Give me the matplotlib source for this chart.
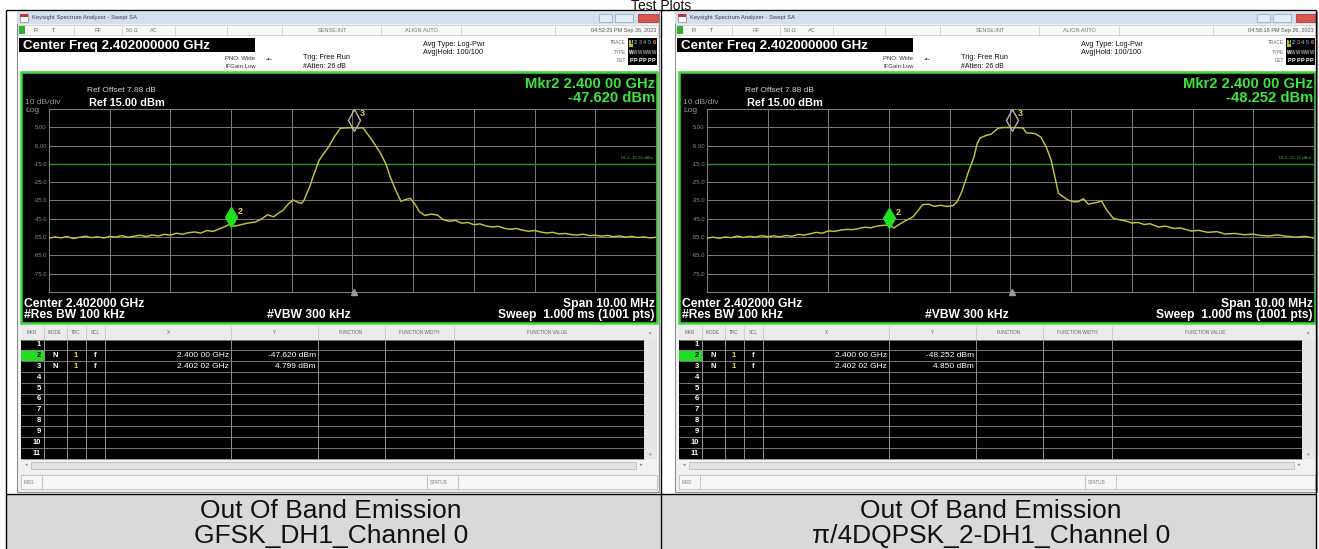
import numpy as np
import matplotlib.pyplot as plt
import matplotlib.transforms as mtransforms
from matplotlib.patches import Rectangle

plt.rcParams['font.family'] = ['Liberation Sans', 'DejaVu Sans']

W, H = 1319, 549

# trace 1 : GFSK DH1, frequency in MHz, level in dBm
gfsk_freq = [2397.0, 2397.1, 2397.2, 2397.3, 2397.4, 2397.5, 2397.6, 2397.7, 2397.8, 2397.9,
             2398.0, 2398.1, 2398.2, 2398.3, 2398.4, 2398.5, 2398.6, 2398.7, 2398.8, 2398.9,
             2399.0, 2399.1, 2399.2, 2399.3, 2399.4, 2399.5, 2399.6, 2399.7, 2399.8, 2399.9,
             2400.0, 2400.05, 2400.1, 2400.2, 2400.3, 2400.4, 2400.5, 2400.6, 2400.7, 2400.75,
             2400.85, 2400.95, 2401.02, 2401.1, 2401.16, 2401.2, 2401.3, 2401.35, 2401.45, 2401.6,
             2401.7, 2401.8, 2401.9, 2402.02, 2402.1, 2402.17, 2402.3, 2402.45, 2402.55, 2402.62,
             2402.72, 2402.8, 2402.86, 2402.95, 2403.03, 2403.1, 2403.19, 2403.3, 2403.4, 2403.5,
             2403.6, 2403.7, 2403.8, 2403.9, 2404.0, 2404.1, 2404.2, 2404.3, 2404.4, 2404.5,
             2404.6, 2404.7, 2404.8, 2404.9, 2405.0, 2405.1, 2405.2, 2405.3, 2405.4, 2405.5,
             2405.6, 2405.7, 2405.8, 2405.9, 2406.0, 2406.1, 2406.2, 2406.3, 2406.4, 2406.5,
             2406.6, 2406.7, 2406.8, 2406.9, 2407.0]
gfsk_dbm = [-55.6, -54.9, -55.4, -54.7, -55.8, -55.1, -54.5, -55.3, -54.8, -55.5,
            -54.6, -55.0, -54.2, -55.1, -54.5, -54.0, -54.7, -53.8, -54.4, -53.5,
            -53.9, -52.9, -53.4, -52.6, -52.2, -52.8, -51.4, -51.9, -50.6, -49.2,
            -47.62, -49.0, -48.7, -47.9, -47.2, -46.8, -45.1, -42.8, -43.9, -42.6,
            -40.5, -36.6, -34.7, -36.0, -36.6, -35.0, -27.0, -22.0, -13.0, -6.0,
            -0.3, 4.5, 4.7, 4.799, 4.6, 4.8, -1.0, -8.5, -15.0, -22.0,
            -30.0, -35.5, -34.6, -33.8, -37.0, -41.0, -43.2, -42.4, -43.0, -45.6,
            -46.3, -45.9, -47.4, -47.0, -48.2, -47.8, -48.9, -49.5, -49.1, -50.2,
            -50.7, -50.3, -51.2, -51.8, -51.4, -52.2, -52.8, -52.4, -53.3, -53.0,
            -53.6, -53.9, -53.4, -54.2, -54.0, -54.5, -54.1, -54.8, -54.4, -55.0,
            -54.6, -55.2, -54.9, -55.4, -55.1]

# trace 2 : pi/4DQPSK 2-DH1
dqpsk_freq = [2397.0, 2397.1, 2397.2, 2397.3, 2397.4, 2397.5, 2397.6, 2397.7, 2397.8, 2397.9,
              2398.0, 2398.1, 2398.2, 2398.3, 2398.4, 2398.5, 2398.6, 2398.7, 2398.8, 2398.9,
              2399.0, 2399.1, 2399.2, 2399.3, 2399.4, 2399.5, 2399.6, 2399.7, 2399.8, 2399.9,
              2400.0, 2400.08, 2400.15, 2400.22, 2400.32, 2400.4, 2400.5, 2400.55, 2400.65, 2400.75,
              2400.85, 2400.95, 2401.05, 2401.12, 2401.2, 2401.3, 2401.4, 2401.45, 2401.5, 2401.6,
              2401.68, 2401.8, 2401.9, 2402.02, 2402.15, 2402.21, 2402.26, 2402.4, 2402.5, 2402.59,
              2402.67, 2402.79, 2402.87, 2402.95, 2403.05, 2403.12, 2403.2, 2403.28, 2403.4, 2403.5,
              2403.58, 2403.69, 2403.8, 2403.9, 2404.0, 2404.1, 2404.2, 2404.3, 2404.44, 2404.55,
              2404.7, 2404.8, 2404.98, 2405.1, 2405.25, 2405.4, 2405.53, 2405.7, 2405.85, 2406.0,
              2406.09, 2406.25, 2406.4, 2406.55, 2406.7, 2406.85, 2407.0]
dqpsk_dbm = [-55.6, -55.0, -55.7, -54.9, -55.3, -54.4, -55.2, -54.6, -55.0, -54.2,
             -54.8, -54.3, -54.9, -54.1, -54.6, -53.5, -53.9, -53.2, -52.4, -52.9,
             -51.6, -51.9, -51.2, -50.8, -50.9, -50.3, -49.6, -49.9, -49.0, -48.6,
             -48.252, -50.0, -48.4, -47.0, -45.2, -43.8, -39.5, -37.3, -37.0, -38.2,
             -37.6, -38.3, -37.8, -35.8, -30.0, -20.0, -11.0, -4.0, -0.8, 0.6,
             1.2, 4.6, 4.9, 4.85, 4.8, 4.5, 2.0, 1.6, -0.3, -5.8,
             -13.0, -31.0, -33.0, -34.8, -35.8, -35.6, -34.0, -37.0, -36.2, -35.3,
             -40.0, -44.6, -45.6, -46.2, -47.3, -47.0, -48.1, -47.7, -49.5, -49.0,
             -50.3, -50.0, -51.7, -51.3, -52.4, -52.0, -53.3, -53.0, -53.7, -53.4,
             -54.0, -54.4, -53.8, -54.6, -55.0, -54.6, -55.5]

marker_freq = [2400.00, 2402.02]          # MHz, markers 2 and 3
gfsk_marker_dbm = [-47.620, 4.799]
dqpsk_marker_dbm = [-48.252, 4.850]
display_line = [-15.20, -15.15]
timestamps = ['04:52:25 PM Sep 26, 2023', '04:58:18 PM Sep 26, 2023']
captions = [('Out Of Band Emission', 'GFSK_DH1_Channel 0'),
            ('Out Of Band Emission', 'π/4DQPSK_2-DH1_Channel 0')]
grid_levels = [-85, -75, -65, -55, -45, -35, -25, -15, -5, 5, 15]

UI = ['Liberation Sans', 'DejaVu Sans']
NARROW = ['Liberation Sans Narrow', 'Liberation Sans', 'DejaVu Sans']

fig = plt.figure(figsize=(W / 100, H / 100), dpi=100)
bg = fig.add_axes([0, 0, 1, 1])
bg.set_xlim(0, W)
bg.set_ylim(H, 0)
bg.axis('off')


def box(x0, y0, x1, y1, fc, ec='none', lw=0.8, z=1):
    bg.add_patch(Rectangle((x0, y0), x1 - x0, y1 - y0, facecolor=fc,
                           edgecolor=ec, linewidth=lw, zorder=z))


def txt(x, y, s, size=5, color='#333333', ha='left', weight='normal', family=UI, z=5):
    bg.text(x, y, s, fontsize=size, color=color, ha=ha, va='center',
            fontweight=weight, family=family, zorder=z)


def vline(x, y0, y1, color, lw=0.6, z=3):
    bg.plot([x, x], [y0, y1], color=color, lw=lw, zorder=z, solid_capstyle='butt')


def hline(y, x0, x1, color, lw=0.6, z=3):
    bg.plot([x0, x1], [y, y], color=color, lw=lw, zorder=z, solid_capstyle='butt')


def ghz(mhz):
    s = f'{mhz / 1000:.5f}'
    return s[:5] + ' ' + s[5:]


def draw_panel(ox, freq, dbm, mkr_dbm, dl, stamp):
    # window frame + title bar
    box(ox + 17, 12, ox + 659, 492, '#f0f0f0', '#8f8f8f')
    box(ox + 17, 12, ox + 659, 24, '#d3dfee')
    box(ox + 20, 14, ox + 28, 22, 'white', '#888888', 0.5, z=2)
    box(ox + 20, 14, ox + 28, 17, '#c0392b', z=3)
    txt(ox + 32, 18, 'Keysight Spectrum Analyzer - Swept SA', 4.2, '#404040')
    box(ox + 599, 13.5, ox + 612, 21.5, '#e3ebf5', '#8ea4bf', 0.5, z=2)
    box(ox + 615, 13.5, ox + 633, 21.5, '#e3ebf5', '#8ea4bf', 0.5, z=2)
    box(ox + 638, 13.5, ox + 658, 21.5, '#d9534f', '#9c2f2b', 0.5, z=2)

    # status row
    box(ox + 18, 25, ox + 658, 35, '#f7f7f7', '#c8c8c8', 0.5)
    box(ox + 19, 26, ox + 25, 34, '#2fae2f', z=2)
    for sx in [74, 122, 175, 227, 282, 381, 461, 555]:
        vline(ox + sx, 25.5, 34.5, '#c8c8c8', 0.5)
    txt(ox + 34, 30.5, 'R', 4, '#555555')
    txt(ox + 52, 30.5, 'T', 4, '#555555')
    txt(ox + 98, 30.5, 'RF', 4, '#777777', ha='center')
    txt(ox + 126, 30.5, '50 Ω', 4, '#777777')
    txt(ox + 150, 30.5, 'AC', 4, '#777777')
    txt(ox + 332, 30.5, 'SENSE:INT', 4, '#777777', ha='center')
    txt(ox + 421, 30.5, 'ALIGN AUTO', 4, '#777777', ha='center')
    txt(ox + 656, 30.5, stamp, 4, '#555555', ha='right')

    # setup rows
    box(ox + 18, 36, ox + 658, 71, 'white')
    box(ox + 19, 38, ox + 255, 52, 'black', z=2)
    txt(ox + 23, 45.5, 'Center Freq 2.402000000 GHz', 9.6, 'white', weight='bold')
    txt(ox + 225, 58, 'PNO: Wide', 4.3, '#333333')
    txt(ox + 225, 66, 'IFGain:Low', 4.3, '#333333')
    txt(ox + 269, 59, '-•-', 5, '#333333', ha='center')
    txt(ox + 303, 57.5, 'Trig: Free Run', 5.3, '#111111')
    txt(ox + 303, 66, '#Atten: 26 dB', 5, '#111111')
    txt(ox + 423, 45, 'Avg Type: Log-Pwr', 5.3, '#111111')
    txt(ox + 423, 53, 'Avg|Hold: 100/100', 5.3, '#111111')
    box(ox + 628, 38, ox + 657, 65, 'black', z=2)
    for lab, ty in zip(['TRACE', 'TYPE', 'DET'], [43, 52, 60]):
        txt(ox + 626, ty, lab, 3.3, '#666666', ha='right')
    trace_cols = ['#e0e040', '#33cccc', '#dd44dd', '#33cc33', '#5577ff', '#ff8844']
    box(ox + 629, 39.5, ox + 633, 46.5, '#b8c830', z=3)
    for i, c in enumerate(trace_cols):
        txt(ox + 631 + i * 4.6, 43, str(i + 1), 4, 'black' if i == 0 else c, ha='center', weight='bold')
        txt(ox + 631 + i * 4.6, 52, 'W', 3.4, 'white' if i == 0 else '#999999', ha='center', weight='bold')
        txt(ox + 631 + i * 4.6, 60, 'P', 4, 'white', ha='center', weight='bold')

    # measurement display
    box(ox + 21, 72, ox + 657, 323, 'black', '#3cd83c', 1.8, z=2)
    txt(ox + 655, 84, f'Mkr2 {ghz(marker_freq[0])} GHz', 10.6, '#3ce63c', ha='right', weight='bold')
    txt(ox + 655, 98, f'{mkr_dbm[0]:.3f} dBm', 10.6, '#3ce63c', ha='right', weight='bold')
    txt(ox + 87, 90, 'Ref Offset 7.88 dB', 6, '#d0d0d0')
    txt(ox + 25, 103, '10 dB/div', 6, '#9a9a9a')
    txt(ox + 89, 103, 'Ref 15.00 dBm', 7.9, 'white', weight='bold')
    txt(ox + 25, 110, 'Log', 6, '#9a9a9a')
    txt(ox + 24, 304, 'Center 2.402000 GHz', 8.7, 'white', weight='bold')
    txt(ox + 655, 304, 'Span 10.00 MHz', 8.7, 'white', ha='right', weight='bold')
    txt(ox + 24, 315, '#Res BW 100 kHz', 8.7, 'white', weight='bold')
    txt(ox + 309, 315, '#VBW 300 kHz', 8.7, 'white', ha='center', weight='bold')
    txt(ox + 655, 315, 'Sweep  1.000 ms (1001 pts)', 8.7, 'white', ha='right', weight='bold')

    ax = fig.add_axes([(ox + 49) / W, 1 - 292 / H, 607 / W, 183 / H])
    ax.set_facecolor('black')
    ax.set_xlim(2397, 2407)
    ax.set_ylim(-85, 15)
    ax.set_xticks(np.arange(2397, 2408, 1))
    ax.set_xticklabels([])
    ax.set_yticks(grid_levels)
    ax.set_yticklabels(['' if v in (-85, 15) else (f'{v:.2f}' if abs(v) < 10 else f'{v:.1f}')
                        for v in grid_levels])
    ax.grid(True, color='#7c7c7c', lw=0.7)
    ax.tick_params(length=0, pad=1.5, labelsize=4.3, labelcolor='#8a8a8a')
    for sp in ax.spines.values():
        sp.set_color('#7c7c7c')
        sp.set_linewidth(0.8)
    ax.set_zorder(4)

    ax.axhline(dl, color='#2a962a', lw=1.0, zorder=2)
    ax.text(2406.95, dl + 2.2, f'DL1 {dl:.2f} dBm', color='#33bb33', fontsize=3.2,
            ha='right', va='bottom')
    ax.plot(freq, dbm, color='#c4c438', lw=1.05, zorder=3)

    # markers sit on the trace with their lower tip
    up2 = mtransforms.offset_copy(ax.transData, fig=fig, x=0, y=5, units='points')
    up3 = mtransforms.offset_copy(ax.transData, fig=fig, x=0, y=5.5, units='points')
    ax.plot(marker_freq[0], mkr_dbm[0], marker='d', ms=10, color='#22e022',
            transform=up2, zorder=5)
    ax.plot(marker_freq[1], mkr_dbm[1], marker='d', ms=11, mfc='none', mec='#b4b4b4',
            mew=1.0, transform=up3, zorder=5, clip_on=False)
    ax.annotate('2', (marker_freq[0], mkr_dbm[0]), xytext=(4.5, 9), textcoords='offset points',
                color='#e6d04a', fontsize=6.5, fontweight='bold', va='center')
    ax.annotate('3', (marker_freq[1], mkr_dbm[1]), xytext=(4.5, 10), textcoords='offset points',
                color='#e6d04a', fontsize=6.5, fontweight='bold', va='center',
                annotation_clip=False)
    ax.plot(marker_freq[1], -85, marker='^', ms=4, color='#9a9a9a', clip_on=False, zorder=5)

    # marker table
    top, bot = 339.5, 458.5
    box(ox + 21, 325, ox + 657, top, '#ebebeb')
    heads = [('MKR', 32), ('MODE', 55), ('TRC', 76), ('SCL', 95), ('X', 168), ('Y', 274),
             ('FUNCTION', 351), ('FUNCTION WIDTH', 419), ('FUNCTION VALUE', 547)]
    for h, hx in heads:
        txt(ox + hx, 332.5, h, 3.3, '#666666', ha='center')
    box(ox + 21, top, ox + 644, bot, 'black', z=2)
    cols = [44, 67, 86, 105, 231, 318, 385, 454]
    for cx in cols:
        vline(ox + cx, 326, top, '#c4c4c4', 0.5)
        vline(ox + cx, top, bot, '#a8a8a8', 0.6)
    row_h = (bot - top) / 11
    for i in range(12):
        hline(top + i * row_h, ox + 21, ox + 644, '#8a8a8a', 0.6)
    box(ox + 21, top + row_h, ox + 44, top + 2 * row_h, '#22dd22', z=2.5)
    for i in range(11):
        yc = top + (i + 0.5) * row_h
        txt(ox + 41, yc, str(i + 1), 5.5, 'black' if i == 1 else 'white', ha='right', weight='bold')
    for k in range(2):
        yc = top + (k + 1.5) * row_h
        txt(ox + 55, yc, 'N', 5.5, 'white', ha='center', weight='bold')
        txt(ox + 76, yc, '1', 5.5, '#e8e040', ha='center', weight='bold')
        txt(ox + 95, yc, 'f', 5.5, 'white', ha='center', weight='bold')
        txt(ox + 229, yc, f'{ghz(marker_freq[k])} GHz', 6, 'white', ha='right', family=NARROW)
        txt(ox + 316, yc, f'{mkr_dbm[k]:.3f} dBm', 6, 'white', ha='right', family=NARROW)
    box(ox + 644, top, ox + 657, bot, '#e6e6e6')
    txt(ox + 650.5, 333, '▴', 3.5, '#888888', ha='center')
    txt(ox + 650.5, 455, '▾', 3.5, '#888888', ha='center')
    box(ox + 21, 460, ox + 657, 470, '#f2f2f2')
    box(ox + 31, 461.5, ox + 636, 468.5, '#e2e2e2', '#b5b5b5', 0.5)
    txt(ox + 26, 465, '◂', 3.5, '#888888', ha='center')
    txt(ox + 641, 465, '▸', 3.5, '#888888', ha='center')
    box(ox + 21, 475, ox + 657, 489, '#f6f6f6', '#b0b0b0', 0.5)
    for sx in [42, 427, 458]:
        vline(ox + sx, 475, 489, '#b0b0b0', 0.5)
    txt(ox + 24, 482, 'MSG', 3.3, '#777777')
    txt(ox + 430, 482, 'STATUS', 3.3, '#777777')


draw_panel(0, gfsk_freq, gfsk_dbm, gfsk_marker_dbm, display_line[0], timestamps[0])
draw_panel(658, dqpsk_freq, dqpsk_dbm, dqpsk_marker_dbm, display_line[1], timestamps[1])

# table grid around the two plots
box(6, 494, 1316, 549, '#d9d9d9', z=0.5)
hline(10, 6, 1316, 'black', 1.0, z=6)
hline(494, 6, 1316, 'black', 1.0, z=6)
for x in [6, 661, 1316]:
    vline(x, 10, 549, 'black', 1.0, z=6)
for cx, (l1, l2) in zip([331, 991], captions):
    txt(cx, 511, l1, 19, '#111111', ha='center')
    txt(cx, 536, l2, 19, '#111111', ha='center')
bg.text(661, 9.5, 'Test Plots', fontsize=10, color='#111111', ha='center', va='baseline', family=UI)

fig.savefig('out.png', dpi=100)
